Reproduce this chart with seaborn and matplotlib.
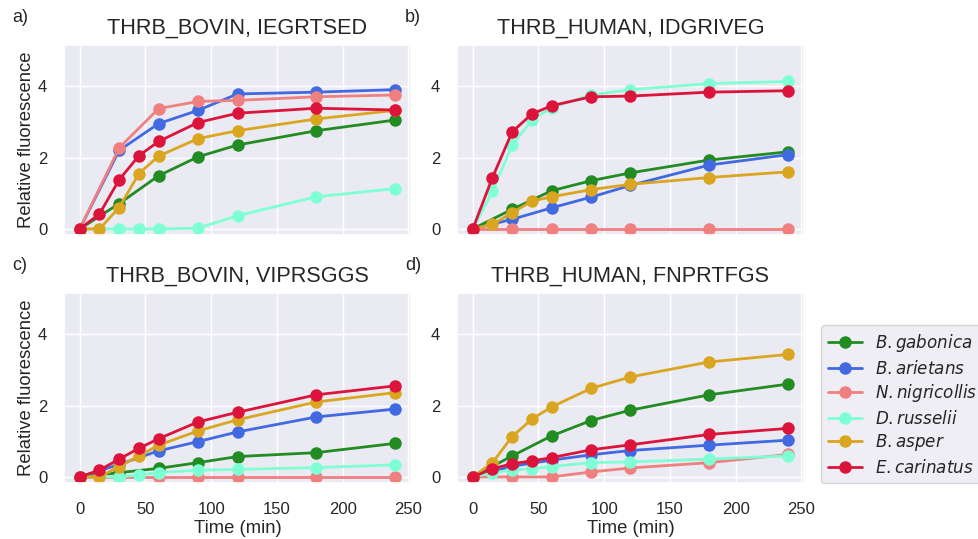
import numpy as np
import pandas as pd
import matplotlib
matplotlib.use("Agg")
import matplotlib.pyplot as plt
import seaborn as sns

TIME_FULL = [0, 15, 30, 45, 60, 90, 120, 180, 240]
TIME_HALF = [0, 30, 60, 90, 120, 180, 240]

SPECIES = ["$B. gabonica$", "$B. arietans$", "$N. nigricollis$",
           "$D. russelii$", "$B. asper$", "$E. carinatus$"]
COLORS = ["#228B22", "#4169E1", "#F08080", "#7FFFD4", "#DAA520", "#DC143C"]
SPECIES_TIMES = [TIME_HALF, TIME_HALF, TIME_HALF, TIME_FULL, TIME_FULL, TIME_FULL]

TITLES = ["THRB_BOVIN, IEGRTSED", "THRB_HUMAN, IDGRIVEG",
          "THRB_BOVIN, VIPRSGGS", "THRB_HUMAN, FNPRTFGS"]
PANEL_LABELS = ["a)", "b)", "c)", "d)"]

# panel a
A_GABONICA = [0, 0.71, 1.49, 2.02, 2.35, 2.75, 3.05]
A_ARIETANS = [0, 2.2, 2.95, 3.32, 3.78, 3.83, 3.9]
A_NIGRICOLLIS = [0, 2.27, 3.37, 3.57, 3.6, 3.7, 3.75]
A_RUSSELII = [0, 0, 0, 0, 0, 0.02, 0.37, 0.9, 1.13]
A_ASPER = [0, 0, 0.6, 1.55, 2.04, 2.53, 2.75, 3.08, 3.32]
A_CARINATUS = [0, 0.42, 1.38, 2.05, 2.45, 2.98, 3.24, 3.38, 3.33]

# panel b
B_GABONICA = [0, 0.55, 1.07, 1.35, 1.57, 1.93, 2.16]
B_ARIETANS = [0, 0.27, 0.59, 0.89, 1.22, 1.79, 2.08]
B_NIGRICOLLIS = [0, 0, 0, 0, 0, 0, 0]
B_RUSSELII = [0, 1.05, 2.35, 3.05, 3.4, 3.75, 3.9, 4.07, 4.13]
B_ASPER = [0, 0.13, 0.45, 0.78, 0.9, 1.1, 1.25, 1.44, 1.6]
B_CARINATUS = [0, 1.44, 2.72, 3.22, 3.45, 3.7, 3.72, 3.83, 3.87]

# panel c
C_GABONICA = [0, 0.12, 0.24, 0.4, 0.57, 0.68, 0.94]
C_ARIETANS = [0, 0.35, 0.73, 0.99, 1.26, 1.68, 1.9]
C_NIGRICOLLIS = [0, 0, 0, 0, 0, 0, 0]
C_RUSSELII = [0, 0, 0, 0.06, 0.12, 0.19, 0.21, 0.26, 0.34]
C_ASPER = [0, 0, 0.29, 0.59, 0.89, 1.29, 1.6, 2.1, 2.36]
C_CARINATUS = [0, 0.19, 0.5, 0.8, 1.07, 1.54, 1.81, 2.3, 2.55]

# panel d
D_GABONICA = [0, 0.59, 1.15, 1.58, 1.87, 2.3, 2.6]
D_ARIETANS = [0, 0.3, 0.47, 0.62, 0.74, 0.89, 1.03]
D_NIGRICOLLIS = [0, 0, 0, 0.14, 0.25, 0.4, 0.63]
D_RUSSELII = [0, 0.12, 0.19, 0.23, 0.29, 0.4, 0.42, 0.5, 0.59]
D_ASPER = [0, 0.4, 1.13, 1.62, 1.96, 2.48, 2.8, 3.22, 3.43]
D_CARINATUS = [0, 0.23, 0.37, 0.45, 0.54, 0.76, 0.9, 1.19, 1.36]

PANELS = [
    [A_GABONICA, A_ARIETANS, A_NIGRICOLLIS, A_RUSSELII, A_ASPER, A_CARINATUS],
    [B_GABONICA, B_ARIETANS, B_NIGRICOLLIS, B_RUSSELII, B_ASPER, B_CARINATUS],
    [C_GABONICA, C_ARIETANS, C_NIGRICOLLIS, C_RUSSELII, C_ASPER, C_CARINATUS],
    [D_GABONICA, D_ARIETANS, D_NIGRICOLLIS, D_RUSSELII, D_ASPER, D_CARINATUS],
]

sns.set_theme(style="darkgrid")
plt.rcParams["font.family"] = ["Liberation Sans", "DejaVu Sans"]

W, H = 979, 539
fig = plt.figure(figsize=(W / 100, H / 100), dpi=100)

boxes = [(64, 45), (457, 45), (64, 293), (457, 293)]  # left, top in px
aw, ah = 347, 190
axes = []
for (l, t) in boxes:
    ax = fig.add_axes([l / W, (H - t - ah) / H, aw / W, ah / H])
    axes.append(ax)

for i, ax in enumerate(axes):
    rows = []
    for name, times, vals in zip(SPECIES, SPECIES_TIMES, PANELS[i]):
        for t, v in zip(times, vals):
            rows.append({"Time": t, "Value": v, "Species": name})
    df = pd.DataFrame(rows)
    sns.lineplot(data=df, x="Time", y="Value", hue="Species",
                 hue_order=SPECIES, palette=COLORS, marker="o",
                 markersize=9, markeredgewidth=0, linewidth=2,
                 ax=ax, legend=(i == 3))
    ax.set_xlim(-12, 252)
    ax.set_ylim(-0.17, 5.15)
    ax.set_xticks([0, 50, 100, 150, 200, 250])
    ax.set_yticks([0, 2, 4])
    ax.tick_params(axis="x", labelsize=12, pad=8)
    ax.tick_params(axis="y", labelsize=12, pad=6)
    ax.set_title(TITLES[i], fontsize=15.6, pad=8)
    if i in (0, 2):
        ax.set_ylabel("Relative fluorescence", fontsize=13.3, labelpad=2)
    else:
        ax.set_ylabel("")
    if i in (2, 3):
        ax.set_xlabel("Time (min)", fontsize=13.3, labelpad=2)
    else:
        ax.set_xlabel("")
        ax.set_xticklabels([])

label_pos = [(12, 17), (405, 17), (12, 265), (405, 265)]
for lab, (x, y) in zip(PANEL_LABELS, label_pos):
    fig.text(x / W, 1 - y / H, lab, fontsize=13, va="center", ha="left",
             color=".15")

leg = axes[3].legend(loc="lower left", bbox_to_anchor=(1.05, 0.0),
                     fontsize=12.1, frameon=True, borderaxespad=0,
                     handlelength=2.0, labelspacing=0.3)
leg.set_title(None)

fig.savefig("out.png", dpi=100)
